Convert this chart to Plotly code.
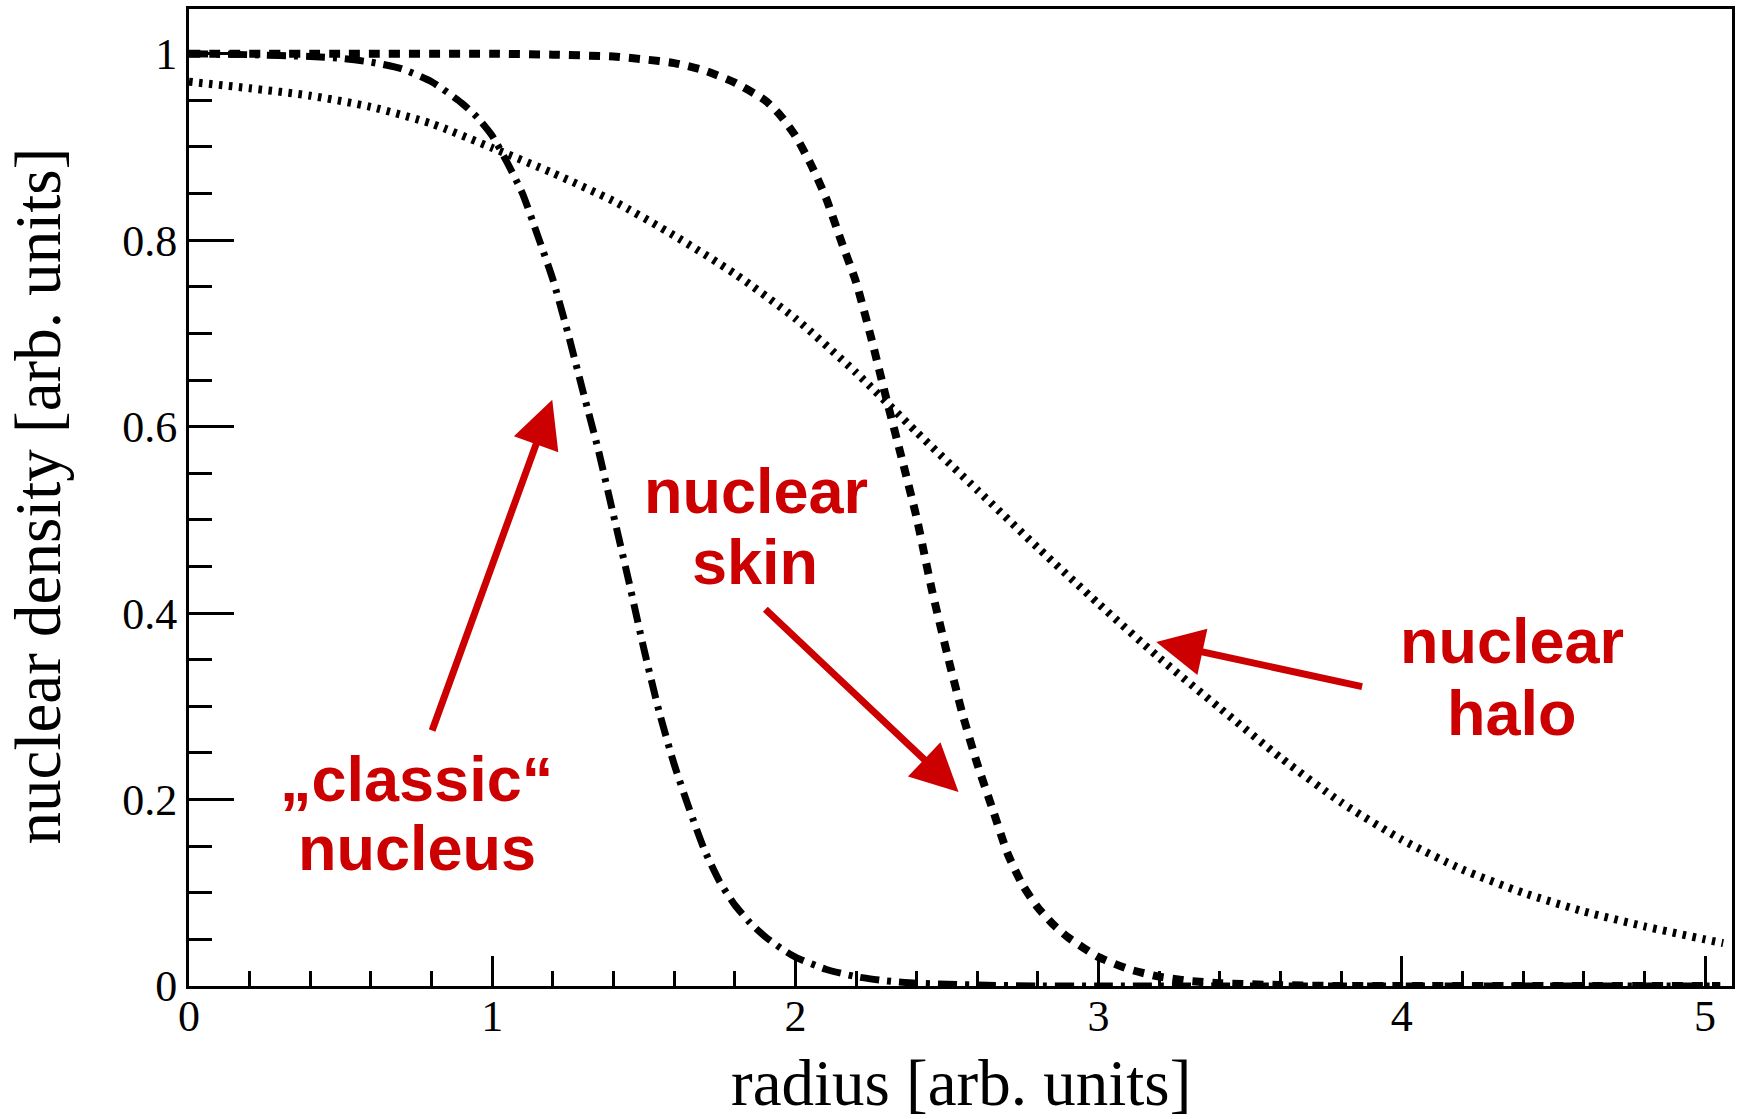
import plotly.graph_objects as go

# Radial density profiles (arbitrary units)
radius_classic = [0, 0.2, 0.4, 0.5, 0.6, 0.7, 0.8, 0.9, 0.95, 1.0, 1.05, 1.1, 1.15, 1.2,
                  1.25, 1.3, 1.35, 1.4, 1.45, 1.5, 1.55, 1.6, 1.65, 1.7, 1.75, 1.8, 1.85,
                  1.9, 1.95, 2.0, 2.1, 2.2, 2.3, 2.4, 2.6, 2.8, 3.0, 3.5, 4.0, 4.5, 5.05]
density_classic = [1.000, 0.999, 0.997, 0.995, 0.991, 0.984, 0.970, 0.947, 0.932, 0.912,
                   0.883, 0.850, 0.805, 0.758, 0.700, 0.637, 0.575, 0.505, 0.435, 0.362,
                   0.295, 0.238, 0.190, 0.146, 0.112, 0.087, 0.068, 0.053, 0.041, 0.031,
                   0.018, 0.010, 0.0055, 0.003, 0.001, 0.0, 0.0, 0.0, 0.0, 0.0, 0.0]

radius_skin = [0, 0.5, 1.0, 1.2, 1.4, 1.5, 1.6, 1.7, 1.8, 1.9, 1.95, 2.0, 2.05, 2.1, 2.15,
               2.2, 2.25, 2.3, 2.35, 2.4, 2.45, 2.5, 2.55, 2.6, 2.65, 2.7, 2.75, 2.8, 2.85,
               2.9, 2.95, 3.0, 3.1, 3.2, 3.3, 3.4, 3.6, 3.8, 4.0, 4.5, 5.05]
density_skin = [1.000, 1.000, 1.000, 0.999, 0.997, 0.994, 0.990, 0.982, 0.969, 0.950, 0.934,
                0.912, 0.882, 0.846, 0.800, 0.755, 0.695, 0.630, 0.567, 0.502, 0.425, 0.357,
                0.293, 0.238, 0.190, 0.142, 0.108, 0.084, 0.066, 0.052, 0.041, 0.031, 0.018,
                0.010, 0.0055, 0.003, 0.001, 0.0, 0.0, 0.0, 0.0]

radius_halo = [0, 0.2, 0.4, 0.6, 0.8, 1.0, 1.2, 1.4, 1.6, 1.8, 2.0, 2.2, 2.4, 2.6, 2.8,
               3.0, 3.2, 3.4, 3.6, 3.8, 4.0, 4.2, 4.4, 4.6, 4.8, 5.0, 5.06]
density_halo = [0.970, 0.963, 0.955, 0.943, 0.925, 0.899, 0.872, 0.842, 0.805, 0.764,
                0.716, 0.658, 0.594, 0.532, 0.470, 0.410, 0.352, 0.298, 0.245, 0.197,
                0.157, 0.125, 0.100, 0.080, 0.064, 0.050, 0.046]

x_ticks = [0, 1, 2, 3, 4, 5]
y_ticks = [0, 0.2, 0.4, 0.6, 0.8, 1]
y_tick_text = ["0", "0.2", "0.4", "0.6", "0.8", "1"]

RED = "#cc0000"
SERIF = "Liberation Serif"
SANS = "Liberation Sans"

fig = go.Figure()

fig.add_trace(go.Scatter(
    x=radius_classic, y=density_classic, mode="lines", name="classic nucleus",
    line=dict(color="black", width=7, dash="19px,8px,4px,8px", shape="spline", smoothing=0.6),
))
fig.add_trace(go.Scatter(
    x=radius_skin, y=density_skin, mode="lines", name="nuclear skin",
    line=dict(color="black", width=8, dash="11px,9px", shape="spline", smoothing=0.6),
))
fig.add_trace(go.Scatter(
    x=radius_halo, y=density_halo, mode="lines", name="nuclear halo",
    line=dict(color="black", width=8, dash="3.5px,6.5px", shape="spline", smoothing=0.6),
))

annotations = []

# red labels, one line per annotation
label_lines = [
    ("\u201eclassic\u201c", 0.7505, 0.2216),
    ("nucleus", 0.7505, 0.1475),
    ("nuclear", 1.870, 0.5306),
    ("skin", 1.868, 0.4544),
    ("nuclear", 4.362, 0.3700),
    ("halo", 4.362, 0.2927),
]
for text, lx, ly in label_lines:
    annotations.append(dict(
        x=lx, y=ly, xref="x", yref="y", text=text, showarrow=False,
        xanchor="center", yanchor="middle",
        font=dict(family=SANS, size=63, color=RED, weight="bold"),
    ))

# arrows: (tip x, tip y, tail x, tail y)
arrows = [
    (1.198, 0.6288, 0.800, 0.2725),
    (2.538, 0.2082, 1.896, 0.4056),
    (3.190, 0.3691, 3.874, 0.3208),
]
for tx, ty, sx, sy in arrows:
    annotations.append(dict(
        x=tx, y=ty, xref="x", yref="y", ax=sx, ay=sy, axref="x", ayref="y",
        text="", showarrow=True, arrowhead=2, arrowsize=1.35, arrowwidth=7,
        arrowcolor=RED, standoff=0,
    ))

# axis titles
annotations.append(dict(
    x=0.5, y=-0.0990, xref="paper", yref="paper", text="radius [arb. units]",
    showarrow=False, xanchor="center", yanchor="middle",
    font=dict(family=SERIF, size=65, color="black"),
))
annotations.append(dict(
    x=-0.0976, y=0.5015, xref="paper", yref="paper", text="nuclear density [arb. units]",
    showarrow=False, xanchor="center", yanchor="middle", textangle=-90,
    font=dict(family=SERIF, size=65, color="black"),
))

axis_common = dict(
    showline=True, linewidth=3, linecolor="black", mirror=True,
    ticks="inside", tickcolor="black", tickwidth=2.5,
    showgrid=False, zeroline=False,
    tickfont=dict(family=SERIF, size=44, color="black"),
)

fig.update_layout(
    width=1738, height=1119,
    margin=dict(l=189, r=3, t=9, b=133, pad=0),
    paper_bgcolor="white", plot_bgcolor="white",
    showlegend=False,
    annotations=annotations,
    xaxis=dict(
        range=[0, 5.089], tickmode="array", tickvals=x_ticks,
        ticktext=[str(v) for v in x_ticks], ticklen=30, ticklabelstandoff=-11,
        minor=dict(dtick=0.2, tick0=0, ticks="inside", ticklen=15, tickwidth=2.5,
                   tickcolor="black", showgrid=False),
        **axis_common,
    ),
    yaxis=dict(
        range=[0, 1.048], tickmode="array", tickvals=y_ticks,
        ticktext=y_tick_text, ticklen=45,
        minor=dict(dtick=0.05, tick0=0, ticks="inside", ticklen=23, tickwidth=2.5,
                   tickcolor="black", showgrid=False),
        **axis_common,
    ),
)

fig.write_html("out.html")
